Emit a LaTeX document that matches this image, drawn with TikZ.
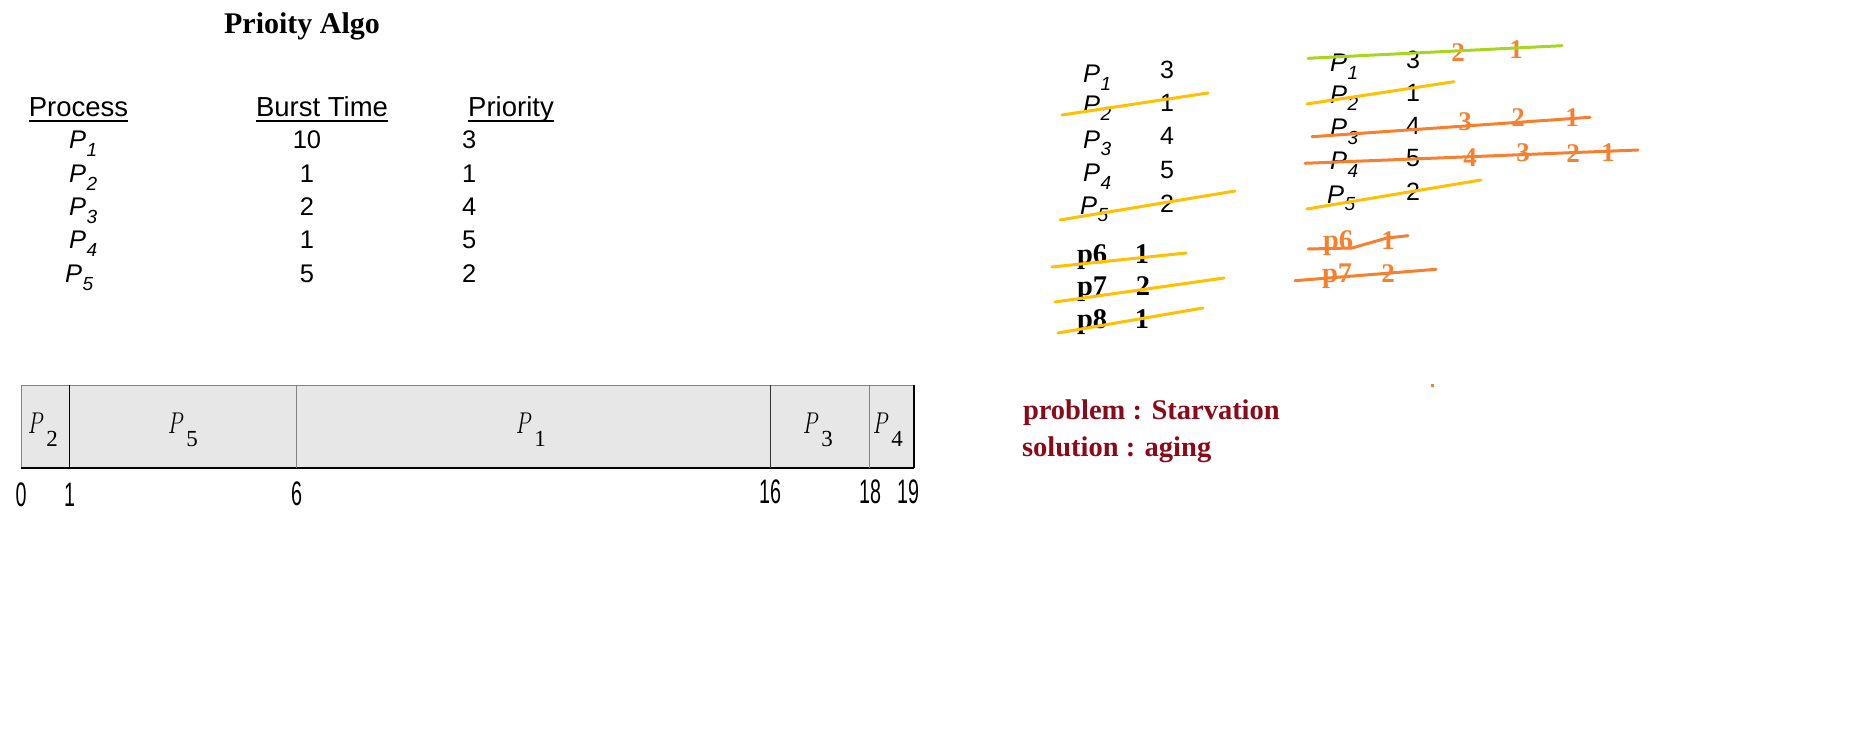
\documentclass[tikz,border=0pt]{standalone}
\usepackage{graphicx}
\usepackage{fontspec}
\setmainfont{Liberation Serif}
\newfontfamily\arialf{Liberation Sans}
\usetikzlibrary{calc}
\definecolor{ylw}{RGB}{255,192,0}
\definecolor{org}{RGB}{246,128,46}
\definecolor{grn}{RGB}{168,214,30}
\definecolor{dred}{RGB}{139,10,26}
\definecolor{gfill}{RGB}{231,231,231}
\definecolor{gline}{RGB}{130,130,130}
\newcommand{\fs}[1]{\fontsize{#1}{#1}\selectfont}
\newcommand{\Pn}[1]{\textit{P}\kern0.5pt\raisebox{-7.5pt}{\fs{19}\textit{#1}}}
\newcommand{\Gn}[1]{\scalebox{1}[1.45]{$P$}\kern2.5pt\raisebox{-13.4pt}{\fs{23}#1}}
\newcommand{\Tn}[1]{\scalebox{0.58}[1]{#1}}
\begin{document}
\begin{tikzpicture}[x=1pt,y=-1pt,
  every node/.style={inner sep=0pt,outer sep=0pt},
  hdr/.style={font=\arialf\fs{27.5},anchor=base},
  tbl/.style={font=\arialf\fs{25.5},anchor=base},
  tblw/.style={font=\arialf\fs{25.5},anchor=base west},
  lst/.style={font=\arialf\fs{25},anchor=base},
  ser/.style={font=\bfseries\fs{28.5},anchor=base west},
  onum/.style={font=\bfseries\fs{27},text=org,anchor=base},
  gl/.style={font=\fs{22},anchor=base west},
  tl/.style={font=\arialf\fs{34},anchor=base},
  strike/.style={line width=3pt,line cap=round},
  ulin/.style={line width=2pt}]
\useasboundingbox (0,0) rectangle (1850,743);
% ---------------- title and table
\node[font=\bfseries\fs{30},anchor=base] (title) at (302,34) {Prioity Algo};
\node[hdr] (hproc) at (78.5,117) {Process};
\node[hdr] (hburst) at (322,117) {Burst Time};
\node[hdr] (hprio) at (511,117) {Priority};
\foreach \h in {hproc,hburst,hprio}{
  \draw[ulin] ($(\h.base west)+(0,4)$) -- ($(\h.base east)+(0,4)$);}
\foreach \i/\y/\b/\p/\xx in {1/149/10/3/69,2/183/1/1/69,3/216/2/4/69,4/249/1/5/69,5/283/5/2/65}{
  \node[tblw] (tp\i) at (\xx,\y) {\Pn{\i}};
  \node[tbl] (tb\i) at (307,\y) {\b};
  \node[font=\arialf\fs{25.5},anchor=base west] (tr\i) at (462,\y) {\p};
}
% ---------------- Gantt chart
\fill[gfill] (21,385) rectangle (914,468);
\draw[gline,line width=1pt] (21,468) -- (21,385) -- (914,385);
\draw[black,line width=1.2pt] (21,468) -- (914,468);
\draw[black,line width=1.5pt] (914,385) -- (914,468);
\draw[black,line width=1pt] (69.3,385) -- (69.3,468);
\draw[gline,line width=1pt] (296.3,385) -- (296.3,468);
\draw[black!80,line width=1pt] (770.7,385) -- (770.7,468);
\draw[gline,line width=1pt] (869.7,385) -- (869.7,468);
\node[gl] (g2) at (28,433.5) {\Gn{2}};
\node[gl] (g5) at (168,433.5) {\Gn{5}};
\node[gl] (g1) at (516,433.5) {\Gn{1}};
\node[gl] (g3) at (803,433.5) {\Gn{3}};
\node[gl] (g4) at (873,433.5) {\Gn{4}};
\node[tl] (t0) at (21,506) {\Tn{0}};
\node[tl] (t1) at (69.5,506) {\Tn{1}};
\node[tl] (t6) at (296.5,505) {\Tn{6}};
\node[tl] (t16) at (770,503) {\Tn{16}};
\node[tl] (t18) at (870,503) {\Tn{18}};
\node[tl] (t19) at (908,503) {\Tn{19}};
% ---------------- right list 1
\foreach \i/\y/\n/\ny/\xx in {1/82.7/3/78.3/1083,2/113.3/1/111.7/1083,3/148.3/4/145/1083,4/181.7/5/178.3/1083,5/214.5/2/212.5/1080}{
  \node[font=\arialf\fs{25.5},anchor=base west] (ap\i) at (\xx,\y) {\Pn{\i}};
  \node[lst] (an\i) at (1167,\ny) {\n};
}
\node[ser] (ap6) at (1077,263.3) {p6};
\node[ser,anchor=base] (an6) at (1142,263.3) {1};
\node[ser] (ap7) at (1077,296) {p7};
\node[ser,anchor=base] (an7) at (1143,296) {2};
\node[ser] (ap8) at (1077,329) {p8};
\node[ser,anchor=base] (an8) at (1142,329) {1};
\draw[strike,ylw] (1062,115) -- (1208,93);
\draw[strike,ylw] (1060,220) -- (1235,191);
\draw[strike,ylw] (1052,267) -- (1186,253);
\draw[strike,ylw] (1055,302) -- (1224,278);
\draw[strike,ylw] (1058,333) -- (1203,308);
% ---------------- right list 2
\foreach \i/\y/\n/\ny/\xx in {1/71.7/3/68.3/1330,2/103.3/1/101.7/1330,3/136.7/4/135/1330,4/170/5/166.7/1330,5/203.3/2/200.7/1327}{
  \node[font=\arialf\fs{25.5},anchor=base west] (bp\i) at (\xx,\y) {\Pn{\i}};
  \node[lst] (bn\i) at (1413,\ny) {\n};
}
\node[onum] (o12) at (1458,61.7) {2};
\node[onum] (o11) at (1516,58.3) {1};
\node[onum] (o33) at (1465,131) {3};
\node[onum] (o32) at (1518,126.7) {2};
\node[onum] (o31) at (1572,126.7) {1};
\node[onum] (o44) at (1470,166.7) {4};
\node[onum] (o43) at (1523,161.7) {3};
\node[onum] (o42) at (1573,162.7) {2};
\node[onum] (o41) at (1608,161.7) {1};
\node[ser,text=org] (bp6) at (1323,250) {p6};
\node[onum] (bn6) at (1388,250) {1};
\node[ser,text=org] (bp7) at (1322,283) {p7};
\node[onum] (bn7) at (1388,283) {2};
\draw[strike,grn] (1308,58.3) -- (1562,45.7);
\draw[strike,ylw] (1307,104) -- (1454,81.7);
\draw[strike,org] (1312,136.7) -- (1590,117.3);
\draw[strike,org] (1305,163.3) -- (1638,150);
\draw[strike,ylw] (1307,209) -- (1481,180);
\draw[strike,org,line join=round] (1308,249) -- (1352,248) -- (1387,238) -- (1408,235.7);
\draw[strike,org] (1295,280.7) -- (1436,269.3);
\fill[org] (1430.5,383.5) rectangle (1433.5,386.5);
% ---------------- problem / solution
\node[ser,text=dred] (prob) at (1023,419.5) {problem : Starvation};
\node[ser,text=dred] (sol) at (1022,456.5) {solution : aging};
\end{tikzpicture}
\end{document}
